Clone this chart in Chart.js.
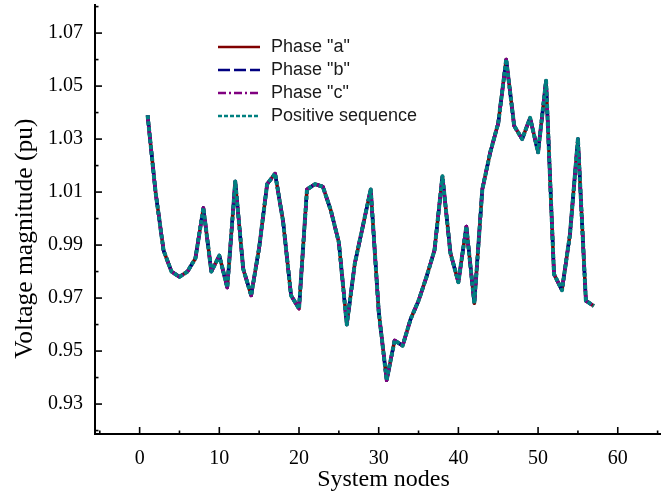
<!DOCTYPE html>
<html>
<head>
<meta charset="utf-8">
<script src="https://cdn.jsdelivr.net/npm/chart.js@4.4.1/dist/chart.umd.min.js"></script>
<style>
  html, body { margin: 0; padding: 0; background: #fff; }
  #wrap { width: 665px; height: 492px; }
</style>
</head>
<body>
<div id="wrap"><canvas id="voltagechart" width="665" height="492"></canvas></div>
<script>
// System nodes (x axis)
const nodes = [1, 2, 3, 4, 5, 6, 7, 8, 9, 10, 11, 12, 13, 14, 15, 16, 17, 18, 19, 20,
  21, 22, 23, 24, 25, 26, 27, 28, 29, 30, 31, 32, 33, 34, 35, 36, 37, 38, 39, 40,
  41, 42, 43, 44, 45, 46, 47, 48, 49, 50, 51, 52, 53, 54, 55, 56, 57];

// Voltage magnitude (pu) - the three phases and the
// positive sequence lie on top of each other, so they share the same readings
const phaseA = [1.039, 1.010, 0.988, 0.980, 0.978, 0.980, 0.985, 1.004, 0.980, 0.986,
  0.974, 1.014, 0.981, 0.971, 0.989, 1.013, 1.017, 0.999, 0.971, 0.966,
  1.011, 1.013, 1.012, 1.003, 0.991, 0.960, 0.983, 0.997, 1.011, 0.965,
  0.939, 0.954, 0.952, 0.962, 0.969, 0.978, 0.988, 1.016, 0.987, 0.976,
  0.997, 0.968, 1.011, 1.025, 1.036, 1.060, 1.035, 1.030, 1.038, 1.025,
  1.052, 0.979, 0.973, 0.994, 1.030, 0.969, 0.967];
const phaseB = phaseA.slice();
const phaseC = phaseA.slice();
const positiveSeq = phaseA.slice();

const seriesNames = ['Phase "a"', 'Phase "b"', 'Phase "c"', 'Positive sequence'];

// Tick positions and labels
const xTicks = [0, 10, 20, 30, 40, 50, 60];
const xMinorTicks = [-5, 5, 15, 25, 35, 45, 55, 65];
const yTicks = [0.93, 0.95, 0.97, 0.99, 1.01, 1.03, 1.05, 1.07];
const yTickLabels = ['0.93', '0.95', '0.97', '0.99', '1.01', '1.03', '1.05', '1.07'];
const yMinorTicks = [0.92, 0.94, 0.96, 0.98, 1.00, 1.02, 1.04, 1.06, 1.08];

const toPoints = (vals) => nodes.map((n, i) => ({ x: n, y: vals[i] }));

// Ticks are drawn on the inside of the axes
const innerTicks = {
  id: 'innerTicks',
  afterDraw(chart) {
    const { ctx, chartArea, scales: { x, y } } = chart;
    ctx.save();
    ctx.strokeStyle = '#000';
    ctx.lineWidth = 1.6;
    const tick = (x1, y1, x2, y2) => {
      ctx.beginPath();
      ctx.moveTo(x1, y1);
      ctx.lineTo(x2, y2);
      ctx.stroke();
    };
    xTicks.forEach(v => { const p = x.getPixelForValue(v); tick(p, chartArea.bottom, p, chartArea.bottom - 7); });
    xMinorTicks.forEach(v => { const p = x.getPixelForValue(v); tick(p, chartArea.bottom, p, chartArea.bottom - 3.5); });
    yTicks.forEach(v => { const p = y.getPixelForValue(v); tick(chartArea.left, p, chartArea.left + 7, p); });
    yMinorTicks.forEach(v => {
      const p = y.getPixelForValue(v);
      if (p >= chartArea.top && p <= chartArea.bottom) tick(chartArea.left, p, chartArea.left + 3.5, p);
    });
    ctx.restore();
  }
};

// Legend box inside the plot, upper middle
const insideLegend = {
  id: 'insideLegend',
  afterDraw(chart) {
    const ctx = chart.ctx;
    ctx.save();
    ctx.font = '18px "Liberation Sans", Arial, sans-serif';
    ctx.textBaseline = 'middle';
    ctx.textAlign = 'left';
    chart.data.datasets.forEach((ds, i) => {
      const rowY = 47 + i * 23;
      ctx.strokeStyle = ds.borderColor;
      ctx.lineWidth = 2.5;
      ctx.setLineDash(ds.borderDash || []);
      ctx.beginPath();
      ctx.moveTo(218, rowY);
      ctx.lineTo(260, rowY);
      ctx.stroke();
      ctx.setLineDash([]);
      ctx.fillStyle = '#1a1a1a';
      ctx.fillText(ds.label, 271, rowY);
    });
    ctx.restore();
  }
};

const ctx = document.getElementById('voltagechart').getContext('2d');
new Chart(ctx, {
  type: 'line',
  data: {
    datasets: [
      { label: seriesNames[0], data: toPoints(phaseA), borderColor: '#800000', borderWidth: 3.5, order: 3 },
      { label: seriesNames[1], data: toPoints(phaseB), borderColor: '#000080', borderWidth: 3.5, borderDash: [12, 4], order: 2 },
      { label: seriesNames[2], data: toPoints(phaseC), borderColor: '#800080', borderWidth: 3.5, borderDash: [8, 3, 2, 3], order: 1 },
      { label: seriesNames[3], data: toPoints(positiveSeq), borderColor: '#008080', borderWidth: 4, borderDash: [4, 2], order: 0 }
    ]
  },
  options: {
    responsive: false,
    animation: false,
    devicePixelRatio: 1,
    events: [],
    layout: { padding: { top: 5, right: 5, left: 0, bottom: 0 } },
    elements: {
      point: { radius: 0 },
      line: { tension: 0, fill: false, borderJoinStyle: 'round', borderCapStyle: 'butt' }
    },
    scales: {
      x: {
        type: 'linear',
        min: -5.6,
        max: 65.3,
        afterFit: (scale) => {
          scale.height = 58;
          scale.paddingLeft = 0;
          scale.paddingRight = 0;
        },
        afterBuildTicks: (scale) => { scale.ticks = xTicks.map(v => ({ value: v })); },
        grid: { drawOnChartArea: false, drawTicks: false },
        border: { display: true, color: '#000', width: 2 },
        ticks: {
          autoSkip: false,
          maxRotation: 0,
          padding: 13,
          color: '#000',
          font: { family: '"Liberation Serif", "Times New Roman", serif', size: 20 }
        },
        title: {
          display: true,
          text: '  System nodes',
          color: '#000',
          padding: { top: 0, bottom: -2 },
          font: { family: '"Liberation Serif", "Times New Roman", serif', size: 24 }
        }
      },
      y: {
        type: 'linear',
        min: 0.9187,
        max: 1.0806,
        afterFit: (scale) => {
          scale.width = 95;
          scale.paddingTop = 0;
          scale.paddingBottom = 0;
        },
        afterBuildTicks: (scale) => { scale.ticks = yTicks.map(v => ({ value: v })); },
        grid: { drawOnChartArea: false, drawTicks: false },
        border: { display: true, color: '#000', width: 2 },
        ticks: {
          autoSkip: false,
          padding: 12,
          color: '#000',
          font: { family: '"Liberation Serif", "Times New Roman", serif', size: 20 },
          callback: (value, index) => yTickLabels[index]
        },
        title: {
          display: true,
          text: 'Voltage magnitude (pu)      ',
          color: '#000',
          padding: { top: 10, bottom: 0 },
          font: { family: '"Liberation Serif", "Times New Roman", serif', size: 25.5 }
        }
      }
    },
    plugins: {
      legend: { display: false },
      tooltip: { enabled: false }
    }
  },
  plugins: [innerTicks, insideLegend]
});
</script>
</body>
</html>
